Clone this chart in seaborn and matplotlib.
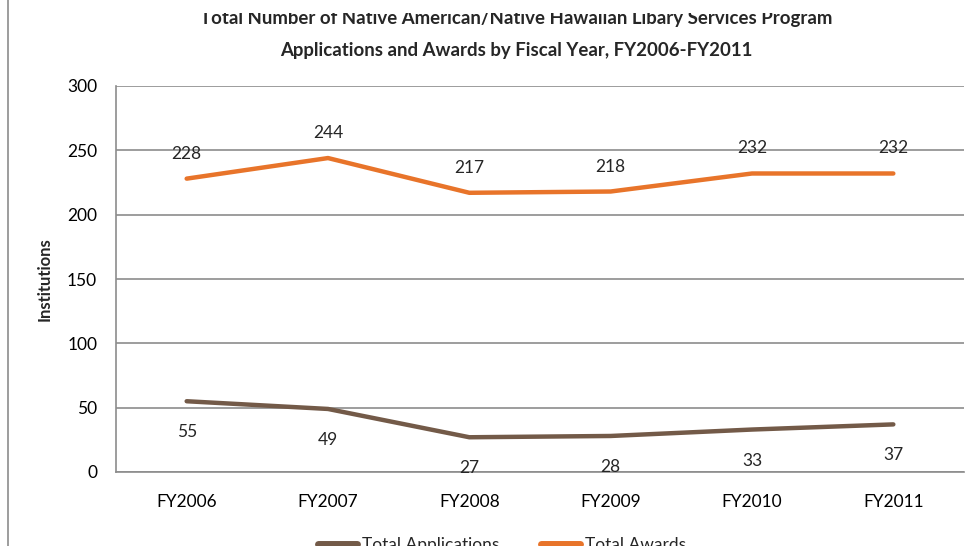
import matplotlib
matplotlib.use("Agg")
import matplotlib.pyplot as plt
import seaborn as sns
import pandas as pd
from matplotlib.lines import Line2D
from matplotlib.patches import Rectangle

years = ["FY2006", "FY2007", "FY2008", "FY2009", "FY2010", "FY2011"]
applications = [55, 49, 27, 28, 33, 37]
awards = [228, 244, 217, 218, 232, 232]
series_names = ["Total Applications", "Total Awards"]
colors = {"Total Applications": "#735A48", "Total Awards": "#E8742A"}

sns.set_theme(style="white")
plt.rcParams["font.family"] = ["Lato", "DejaVu Sans"]

df = pd.DataFrame({
    "Year": years * 2,
    "Value": applications + awards,
    "Series": [series_names[0]] * len(years) + [series_names[1]] * len(years),
})
df["x"] = df["Year"].map({y: i for i, y in enumerate(years)})

fig = plt.figure(figsize=(9.75, 5.46), dpi=100)
ax = fig.add_axes([116 / 975, 1 - 472 / 546, (964 - 116) / 975, (472 - 86) / 546])

sns.lineplot(data=df, x="x", y="Value", hue="Series", palette=colors,
             linewidth=3.2, ax=ax, legend=False, sort=False)

ax.set_xlim(-0.5, len(years) - 0.5)
ax.set_ylim(0, 300)
ax.set_yticks(range(0, 301, 50))
ax.set_xticks(range(len(years)))
ax.set_xticklabels(years)
ax.yaxis.grid(True, color="#8c8c8c", linewidth=1.2)
ax.set_axisbelow(True)
for s in ["top", "right"]:
    ax.spines[s].set_visible(False)
for s in ["left", "bottom"]:
    ax.spines[s].set_color("#8c8c8c")
    ax.spines[s].set_linewidth(1.2)
ax.tick_params(axis="both", length=0, labelsize=12.5, colors="#000000")
ax.tick_params(axis="y", pad=13.5)
ax.tick_params(axis="x", pad=16)
ax.set_xlabel("")
ax.set_ylabel("Institutions", fontsize=12, fontweight="bold")
ax.yaxis.set_label_coords((45 - 116) / 848, 0.5)
ax.yaxis.label.set_va("center")

for i, v in enumerate(awards):
    ax.annotate(str(v), (i, v), textcoords="offset pixels", xytext=(0, 25),
                ha="center", va="center", fontsize=12.5)
for i, v in enumerate(applications):
    ax.annotate(str(v), (i, v), textcoords="offset pixels", xytext=(0, -31),
                ha="center", va="center", fontsize=12.5)

fig.text(516 / 975, 1 - 24 / 546, "Total Number of Native American/Native Hawaiian Libary Services Program",
         ha="center", va="baseline", fontsize=13.4, fontweight="bold")
fig.text(516 / 975, 1 - 56 / 546, "Applications and Awards by Fiscal Year, FY2006-FY2011",
         ha="center", va="baseline", fontsize=13.4, fontweight="bold")
# the reference image is cropped just above the first title line
fig.add_artist(Rectangle((12 / 975, 1 - 13 / 546), 1, 13 / 546, facecolor="white",
                         edgecolor="none", transform=fig.transFigure, zorder=10))

fig.add_artist(Line2D([8 / 975, 8 / 975], [0, 1], color="#8c8c8c", linewidth=1.2,
                      transform=fig.transFigure, zorder=11))

handles = [Line2D([0], [0], color=colors[n], linewidth=5) for n in series_names]
fig.legend(handles, series_names, loc="center", bbox_to_anchor=(502 / 975, 1 - 545 / 546),
           ncol=2, frameon=False, fontsize=12.5, handlelength=2.25, columnspacing=2.4,
           handletextpad=0.3)

fig.savefig("out.png", dpi=100)
